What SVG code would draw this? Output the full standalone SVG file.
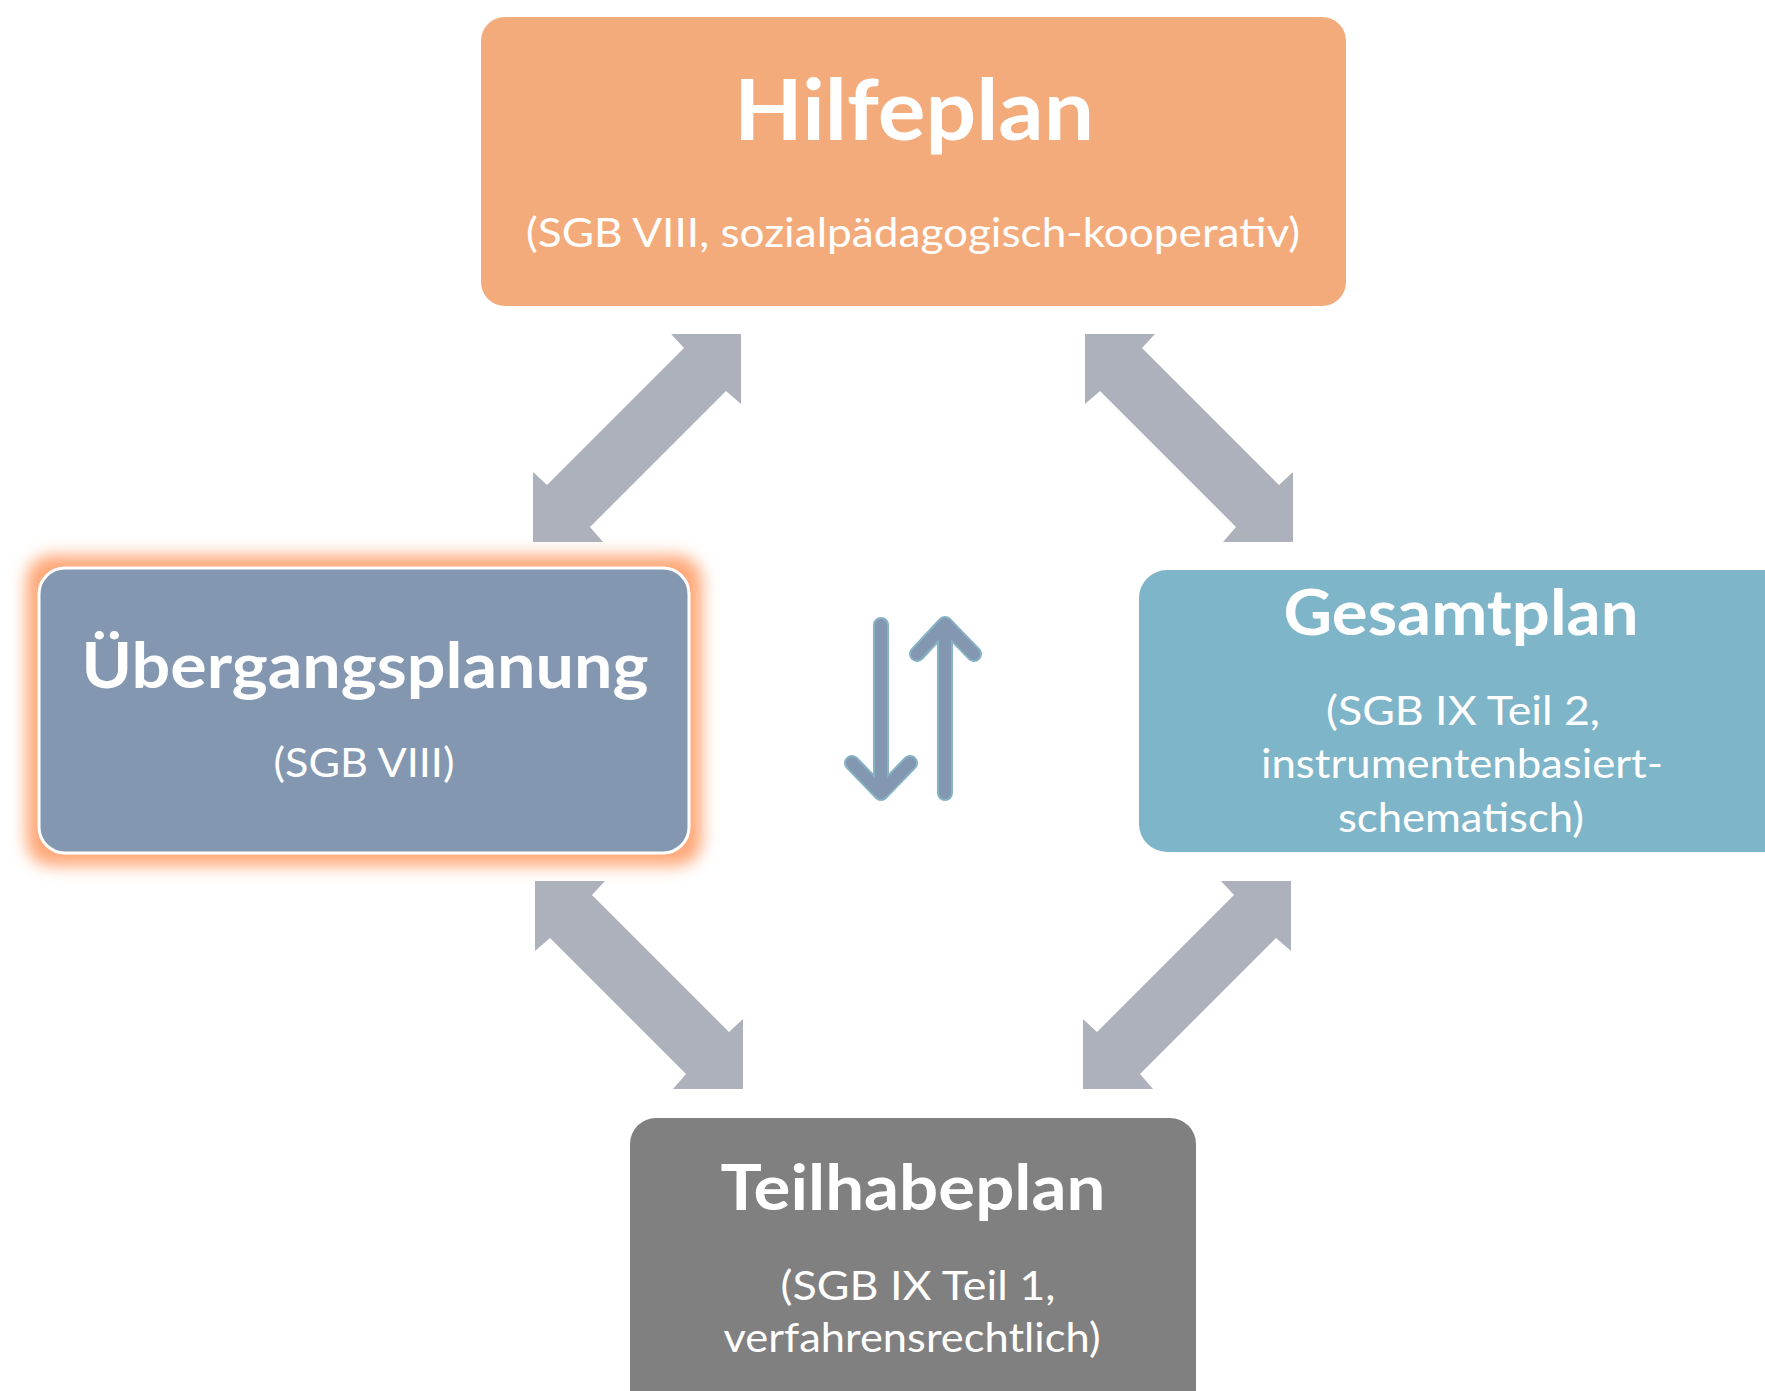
<svg xmlns="http://www.w3.org/2000/svg" width="1765" height="1391" viewBox="0 0 1765 1391">
<style>
.title{font-family:Lato,"Liberation Sans",sans-serif;font-weight:700;fill:#ffffff;text-anchor:middle}
.sub{font-family:Lato,"Liberation Sans",sans-serif;font-weight:400;fill:#ffffff;text-anchor:middle;font-size:40px}
.arr{fill:#acb1bb}
.ic-o{fill:none;stroke:#86b2c6;stroke-width:16;stroke-linecap:round;stroke-linejoin:round}
.ic-i{fill:none;stroke:#8497b0;stroke-width:12;stroke-linecap:round;stroke-linejoin:round}
</style>
<defs>
<filter id="glow" x="-20%" y="-30%" width="140%" height="160%">
<feMorphology operator="dilate" radius="13"/>
<feGaussianBlur stdDeviation="8"/>
</filter>
<polygon id="dbl" points="208,0 208,70 193,57 57,193 70,208 0,208 0,138 14,151 151,14 138,0"/>
</defs>
<rect width="1765" height="1391" fill="#ffffff"/>
<g id="connectors">
<use href="#dbl" class="arr" transform="translate(533,334)"/>
<use href="#dbl" class="arr" transform="translate(1293,334) scale(-1,1)"/>
<use href="#dbl" class="arr" transform="translate(743,881) scale(-1,1)"/>
<use href="#dbl" class="arr" transform="translate(1083,881)"/>
</g>
<g id="exchange-icon">
<path class="ic-o" d="M881,625 V793 M852,763 L881,793 L910,763"/>
<path class="ic-o" d="M945,793 V624 M917,654 L945,624 L974,654"/>
<path class="ic-i" d="M881,625 V793 M852,763 L881,793 L910,763"/>
<path class="ic-i" d="M945,793 V624 M917,654 L945,624 L974,654"/>
</g>
<g id="hilfeplan">
<rect x="481" y="17" width="865" height="289" rx="24" fill="#f4ab7b"/>
<text class="title" x="914" y="140" font-size="84" textLength="360" lengthAdjust="spacingAndGlyphs">Hilfeplan</text>
<text class="sub" x="913" y="247" textLength="774" lengthAdjust="spacingAndGlyphs">(SGB VIII, sozialpädagogisch-kooperativ)</text>
</g>
<g id="uebergangsplanung">
<rect x="39" y="568" width="650" height="285" rx="26" fill="#ffa878" filter="url(#glow)"/>
<rect x="39" y="568" width="650" height="285" rx="26" fill="#8497b0" stroke="#ffffff" stroke-width="3"/>
<text class="title" x="365" y="688" font-size="63" textLength="567" lengthAdjust="spacingAndGlyphs">Übergangsplanung</text>
<text class="sub" x="364" y="777" textLength="181" lengthAdjust="spacingAndGlyphs">(SGB VIII)</text>
</g>
<g id="gesamtplan">
<rect x="1139" y="570" width="700" height="282" rx="28" fill="#7fb5c8"/>
<text class="title" x="1461" y="635" font-size="63" textLength="355" lengthAdjust="spacingAndGlyphs">Gesamtplan</text>
<text class="sub" x="1463" y="725" textLength="274" lengthAdjust="spacingAndGlyphs">(SGB IX Teil 2,</text>
<text class="sub" x="1462" y="778" textLength="402" lengthAdjust="spacingAndGlyphs">instrumentenbasiert-</text>
<text class="sub" x="1461" y="832" textLength="246" lengthAdjust="spacingAndGlyphs">schematisch)</text>
</g>
<g id="teilhabeplan">
<rect x="630" y="1118" width="566" height="330" rx="26" fill="#808080"/>
<text class="title" x="913" y="1210" font-size="63" textLength="385" lengthAdjust="spacingAndGlyphs">Teilhabeplan</text>
<text class="sub" x="918" y="1300" textLength="275" lengthAdjust="spacingAndGlyphs">(SGB IX Teil 1,</text>
<text class="sub" x="912" y="1352" textLength="377" lengthAdjust="spacingAndGlyphs">verfahrensrechtlich)</text>
</g>
</svg>
